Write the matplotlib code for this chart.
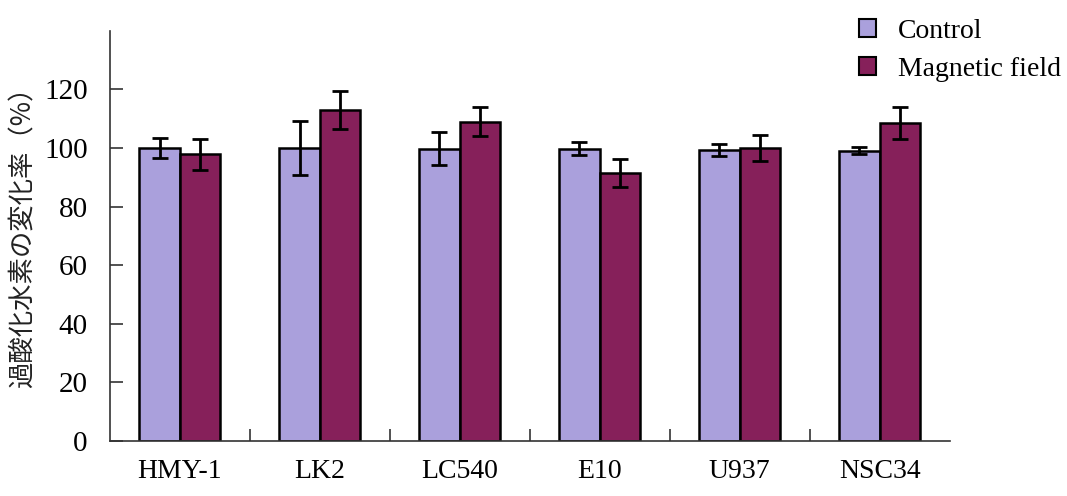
import matplotlib.pyplot as plt
import numpy as np
from matplotlib.patches import Patch

# data
cells = ["HMY-1", "LK2", "LC540", "E10", "U937", "NSC34"]
control = [100.0, 100.0, 99.8, 99.7, 99.3, 99.1]
control_err = [3.3, 9.3, 5.6, 2.2, 2.2, 1.2]
magnetic = [97.8, 112.8, 109.0, 91.5, 100.0, 108.5]
magnetic_err = [5.4, 6.5, 5.0, 4.8, 4.5, 5.4]
yticks = [0, 20, 40, 60, 80, 100, 120]

c_ctrl = "#aaa0dc"
c_mag = "#86205a"
serif = "Liberation Serif"

fig = plt.figure(figsize=(10.67, 4.96), dpi=100)
ax = fig.add_axes([0.103, 0.111, 0.787, 0.827])

x = np.arange(len(cells))
w = 0.29
err_kw = dict(ecolor="black", elinewidth=2, capsize=6, capthick=2)
ax.bar(x - w / 2, control, w, yerr=control_err, color=c_ctrl,
       edgecolor="black", linewidth=1.8, error_kw=err_kw, zorder=2)
ax.bar(x + w / 2, magnetic, w, yerr=magnetic_err, color=c_mag,
       edgecolor="black", linewidth=1.8, error_kw=err_kw, zorder=2)

ax.set_xlim(-0.5, len(cells) - 0.5)
ax.set_ylim(0, 140)
ax.spines["top"].set_visible(False)
ax.spines["right"].set_visible(False)
for s in ["left", "bottom"]:
    ax.spines[s].set_linewidth(1.2)
    ax.spines[s].set_color("#333333")

ax.set_yticks(yticks)
ax.set_yticklabels([str(v) for v in yticks], fontfamily=serif, fontsize=21)
ax.tick_params(axis="y", direction="in", length=9, width=1.2, pad=16,
               color="#333333")

ax.set_xticks(x)
ax.set_xticklabels(cells, fontfamily=serif, fontsize=20)
ax.tick_params(axis="x", which="major", length=0, pad=13)
ax.set_xticks(np.arange(0.5, len(cells) - 0.5, 1.0), minor=True)
ax.tick_params(axis="x", which="minor", direction="in", length=9, width=1.2,
               color="#333333")

fig.text(0.022, 0.535, "過酸化水素の変化率（%）", rotation=90,
         ha="center", va="center", fontsize=19,
         family=["Noto Sans CJK JP", "DejaVu Sans"], color="#222222")

handles = [Patch(facecolor=c_ctrl, edgecolor="black", linewidth=1.5),
           Patch(facecolor=c_mag, edgecolor="black", linewidth=1.5)]
fig.legend(handles, ["Control", "Magnetic field"], loc="upper left",
           bbox_to_anchor=(0.782, 1.012), frameon=False,
           prop={"family": serif, "size": 20},
           handlelength=0.6, handleheight=0.6, handletextpad=0.8,
           labelspacing=0.45)

fig.savefig("out.png", dpi=100)
